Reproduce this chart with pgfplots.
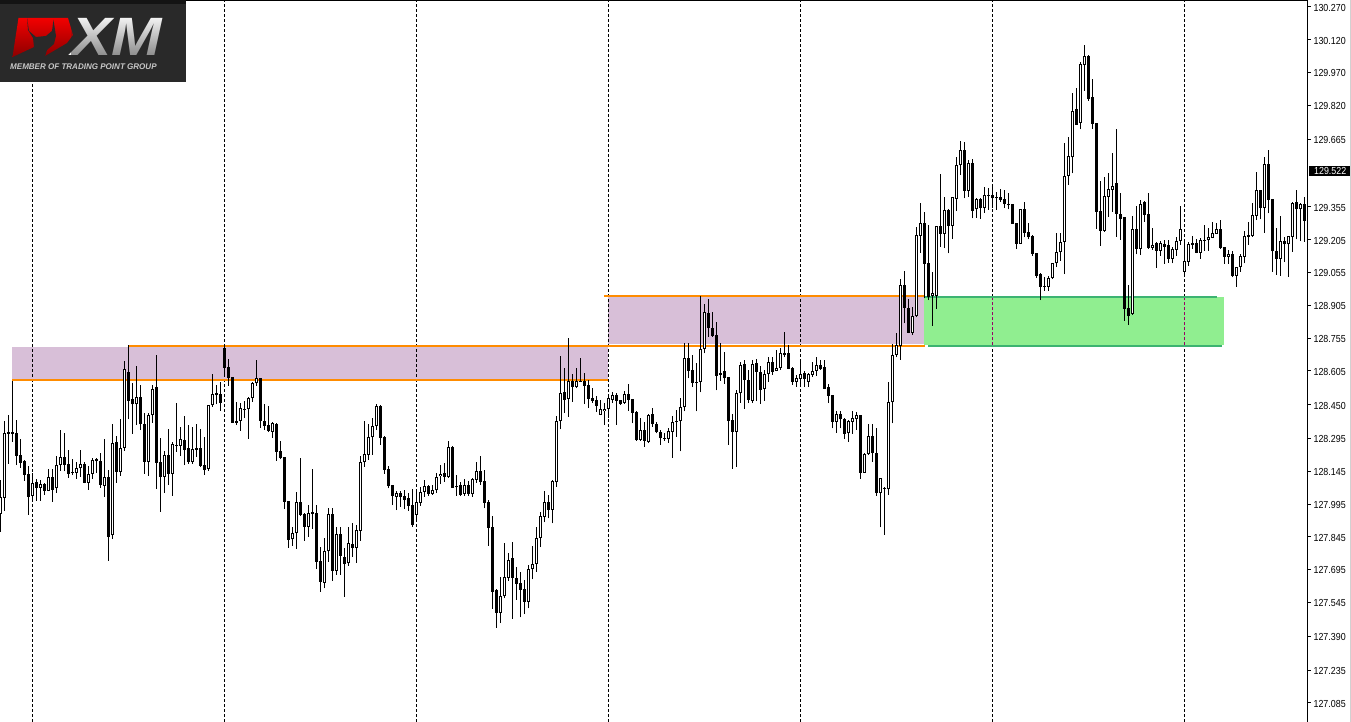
\documentclass[border=0pt]{standalone}
\usepackage{pgfplots}
\usepackage{pgfplotstable}
\usepackage{fontspec}
\setmainfont{Liberation Sans}
\pgfplotsset{compat=1.18}
\usetikzlibrary{fadings}
\definecolor{pzone}{RGB}{216,191,216}
\definecolor{gzone}{RGB}{144,238,144}
\definecolor{gline}{RGB}{60,179,113}
\definecolor{ozone}{RGB}{255,140,0}
\pgfplotstableread{
k l h b t u
0 127.869 128.106 127.949 128.029 1
1 127.964 128.377 128.025 128.319 1
2 128.179 128.403 128.318 128.324 0
3 128.281 128.560 128.318 128.324 0
4 128.174 128.380 128.217 128.319 0
5 128.162 128.293 128.185 128.219 0
6 128.103 128.197 128.130 128.191 0
7 127.947 128.170 128.029 128.132 0
8 128.011 128.136 128.034 128.090 1
9 128.010 128.110 128.071 128.095 0
10 128.010 128.106 128.071 128.086 1
11 128.037 128.093 128.057 128.087 0
12 128.055 128.154 128.057 128.118 1
13 128.006 128.154 128.061 128.118 0
14 128.048 128.215 128.067 128.173 1
15 128.148 128.334 128.173 128.209 1
16 128.145 128.321 128.176 128.209 0
17 128.116 128.243 128.135 128.177 0
18 128.128 128.200 128.138 128.141 0
19 128.110 128.186 128.139 128.159 1
20 128.121 128.243 128.159 128.177 1
21 128.090 128.190 128.093 128.177 0
22 128.060 128.168 128.093 128.135 1
23 128.110 128.208 128.135 128.196 1
24 128.139 128.208 128.191 128.200 0
25 128.071 128.228 128.084 128.191 0
26 128.029 128.293 128.080 128.118 1
27 127.737 128.151 127.846 128.118 0
28 127.836 128.362 127.852 128.273 1
29 128.093 128.307 128.144 128.278 0
30 128.125 128.385 128.144 128.251 1
31 128.240 128.649 128.254 128.612 1
32 128.383 128.722 128.469 128.598 0
33 128.318 128.548 128.452 128.476 0
34 128.356 128.627 128.452 128.484 1
35 128.334 128.539 128.360 128.484 0
36 128.133 128.411 128.190 128.360 0
37 128.125 128.411 128.190 128.401 1
38 128.368 128.540 128.401 128.520 1
39 128.064 128.678 128.185 128.530 0
40 127.961 128.296 128.121 128.186 0
41 128.048 128.238 128.121 128.219 1
42 128.083 128.339 128.135 128.219 0
43 128.034 128.278 128.135 128.269 1
44 128.235 128.456 128.263 128.266 0
45 128.215 128.347 128.263 128.292 1
46 128.174 128.399 128.244 128.287 0
47 128.179 128.356 128.188 128.251 0
48 128.179 128.347 128.188 128.246 1
49 128.212 128.362 128.244 128.252 0
50 128.164 128.337 128.170 128.251 0
51 128.130 128.301 128.151 128.173 0
52 128.148 128.449 128.157 128.447 1
53 128.441 128.591 128.447 128.498 1
54 128.453 128.540 128.493 128.502 1
55 128.423 128.556 128.459 128.498 0
56 128.586 128.728 128.620 128.708 0
57 128.536 128.658 128.574 128.621 0
58 128.368 128.577 128.368 128.577 0
59 128.357 128.464 128.368 128.376 0
60 128.331 128.459 128.377 128.434 1
61 128.388 128.467 128.427 128.431 0
62 128.295 128.487 128.429 128.479 1
63 128.464 128.556 128.479 128.548 1
64 128.536 128.655 128.548 128.571 1
65 128.345 128.574 128.377 128.571 0
66 128.334 128.453 128.354 128.374 0
67 128.324 128.444 128.331 128.356 0
68 128.299 128.371 128.327 128.365 1
69 128.194 128.365 128.235 128.360 0
70 128.200 128.284 128.208 128.237 0
71 127.973 128.211 128.006 128.211 0
72 127.796 128.008 127.833 128.008 0
73 127.804 127.892 127.834 127.862 1
74 127.790 128.049 127.862 128.003 1
75 127.942 128.208 127.945 128.003 0
76 127.828 127.953 127.892 127.950 0
77 127.846 127.991 127.892 127.953 1
78 127.881 128.156 127.952 127.958 0
79 127.698 127.991 127.732 127.955 0
80 127.595 127.801 127.640 127.735 0
81 127.610 127.839 127.636 127.779 1
82 127.732 127.976 127.779 127.949 1
83 127.645 127.976 127.691 127.949 0
84 127.671 127.892 127.691 127.857 1
85 127.671 127.892 127.759 127.857 0
86 127.572 127.793 127.723 127.752 0
87 127.714 127.892 127.724 127.816 1
88 127.755 127.907 127.796 127.813 0
89 127.727 127.900 127.796 127.875 1
90 127.828 128.215 127.874 128.186 1
91 128.167 128.376 128.186 128.223 1
92 128.197 128.360 128.222 128.301 1
93 128.220 128.388 128.301 128.351 1
94 128.334 128.453 128.351 128.443 1
95 128.266 128.447 128.299 128.444 0
96 128.133 128.307 128.153 128.302 0
97 128.067 128.170 128.078 128.156 0
98 127.991 128.083 128.034 128.083 0
99 127.968 128.057 128.029 128.045 1
100 127.984 128.055 128.029 128.045 0
101 127.973 128.060 128.016 128.031 0
102 127.965 128.045 127.988 128.023 0
103 127.892 128.064 127.900 127.991 0
104 127.927 128.052 127.947 128.003 1
105 127.987 128.075 128.002 128.052 1
106 128.029 128.106 128.052 128.077 1
107 128.034 128.083 128.043 128.078 0
108 128.037 128.083 128.043 128.058 1
109 128.045 128.136 128.058 128.118 1
110 128.086 128.174 128.122 128.135 1
111 128.098 128.182 128.119 128.136 0
112 128.116 128.284 128.119 128.255 1
113 128.071 128.261 128.071 128.257 0
114 128.034 128.128 128.072 128.077 0
115 128.032 128.098 128.037 128.081 0
116 128.032 128.110 128.043 128.081 1
117 128.034 128.103 128.042 128.083 0
118 128.029 128.113 128.040 128.109 1
119 128.093 128.190 128.107 128.145 1
120 128.083 128.215 128.098 128.145 0
121 127.976 128.151 128.002 128.100 0
122 127.805 128.014 127.887 128.003 0
123 127.517 127.941 127.595 127.889 0
124 127.430 127.605 127.499 127.601 0
125 127.450 127.663 127.499 127.573 1
126 127.564 127.816 127.573 127.663 1
127 127.645 127.773 127.659 127.738 1
128 127.471 127.823 127.659 127.747 0
129 127.557 127.706 127.631 127.656 0
130 127.477 127.686 127.604 127.633 0
131 127.492 127.648 127.549 127.605 0
132 127.518 127.717 127.549 127.697 1
133 127.651 127.804 127.697 127.720 1
134 127.686 127.892 127.720 127.839 1
135 127.798 127.961 127.842 127.939 1
136 127.912 128.055 127.935 128.003 1
137 127.930 128.037 127.970 128.003 0
138 127.907 128.106 127.970 128.101 1
139 128.075 128.399 128.095 128.374 1
140 128.337 128.673 128.374 128.502 1
141 128.411 128.620 128.472 128.508 0
142 128.395 128.754 128.475 128.559 1
143 128.464 128.591 128.533 128.559 0
144 128.525 128.617 128.530 128.559 1
145 128.554 128.662 128.556 128.559 0
146 128.453 128.594 128.537 128.559 0
147 128.437 128.563 128.476 128.540 0
148 128.459 128.525 128.467 128.479 0
149 128.418 128.490 128.444 128.470 0
150 128.403 128.472 128.405 128.429 1
151 128.358 128.457 128.419 128.429 1
152 128.388 128.495 128.432 128.480 1
153 128.457 128.507 128.472 128.493 1
154 128.358 128.502 128.469 128.495 0
155 128.449 128.470 128.454 128.470 0
156 128.454 128.513 128.460 128.498 1
157 128.422 128.545 128.472 128.498 0
158 128.365 128.475 128.414 128.475 0
159 128.284 128.422 128.289 128.415 0
160 128.284 128.388 128.289 128.333 1
161 128.258 128.373 128.286 128.333 0
162 128.274 128.408 128.280 128.405 1
163 128.350 128.434 128.361 128.406 0
164 128.319 128.370 128.324 128.361 0
165 128.266 128.335 128.297 128.326 0
166 128.284 128.319 128.293 128.298 0
167 128.277 128.342 128.295 128.329 1
168 128.208 128.399 128.327 128.370 1
169 128.304 128.426 128.373 128.376 0
170 128.236 128.480 128.374 128.438 1
171 128.419 128.731 128.438 128.663 1
172 128.571 128.734 128.606 128.663 0
173 128.530 128.678 128.551 128.609 0
174 128.419 128.640 128.551 128.554 0
175 128.506 128.948 128.553 128.704 1
176 128.685 128.911 128.704 128.873 1
177 128.762 128.934 128.800 128.869 0
178 128.762 128.876 128.766 128.800 0
179 128.515 128.827 128.583 128.768 0
180 128.560 128.731 128.588 128.597 1
181 128.545 128.690 128.571 128.602 0
182 128.266 128.579 128.377 128.576 0
183 128.158 128.406 128.327 128.379 0
184 128.167 128.518 128.327 128.502 1
185 128.460 128.647 128.502 128.632 1
186 128.432 128.655 128.565 128.635 0
187 128.457 128.609 128.472 128.563 0
188 128.457 128.655 128.469 128.635 1
189 128.469 128.658 128.600 128.640 0
190 128.454 128.627 128.518 128.598 0
191 128.469 128.609 128.521 128.589 1
192 128.556 128.670 128.589 128.644 1
193 128.586 128.670 128.600 128.644 0
194 128.602 128.701 128.606 128.620 1
195 128.609 128.708 128.620 128.685 1
196 128.667 128.783 128.678 128.685 0
197 128.612 128.721 128.615 128.685 0
198 128.541 128.621 128.556 128.617 0
199 128.533 128.586 128.556 128.571 1
200 128.530 128.647 128.568 128.592 1
201 128.530 128.602 128.567 128.594 0
202 128.533 128.594 128.556 128.589 1
203 128.579 128.644 128.586 128.602 1
204 128.582 128.667 128.606 128.630 1
205 128.609 128.655 128.614 128.630 0
206 128.521 128.655 128.524 128.621 0
207 128.457 128.544 128.492 128.530 0
208 128.342 128.495 128.373 128.493 0
209 128.322 128.419 128.373 128.406 1
210 128.342 128.419 128.383 128.409 0
211 128.292 128.388 128.318 128.385 0
212 128.281 128.380 128.319 128.374 1
213 128.316 128.422 128.373 128.388 1
214 128.335 128.415 128.383 128.402 1
215 128.110 128.403 128.139 128.402 0
216 128.139 128.228 128.139 128.223 1
217 128.220 128.362 128.223 128.306 1
218 128.190 128.362 128.228 128.307 0
219 128.033 128.342 128.048 128.228 0
220 127.889 128.113 128.045 128.113 1
221 127.854 128.072 128.065 128.069 0
222 128.037 128.556 128.063 128.461 1
223 128.365 128.728 128.461 128.676 1
224 128.666 128.777 128.678 128.722 1
225 128.655 129.024 128.720 128.996 1
226 128.822 129.060 128.894 128.996 0
227 128.777 128.934 128.780 128.891 0
228 128.769 128.899 128.780 128.856 1
229 128.850 129.262 128.854 129.225 1
230 129.146 129.371 129.223 129.280 1
231 128.937 129.333 129.095 129.280 0
232 128.929 129.272 128.944 129.097 0
233 128.812 129.056 128.949 128.960 1
234 128.888 129.269 128.949 129.266 1
235 129.173 129.506 129.233 129.266 0
236 129.166 129.399 129.233 129.339 1
237 129.143 129.346 129.269 129.341 0
238 129.208 129.402 129.269 129.399 1
239 129.336 129.585 129.393 129.545 1
240 129.501 129.657 129.545 129.614 1
241 129.394 129.652 129.429 129.614 0
242 129.402 129.570 129.429 129.555 1
243 129.303 129.574 129.338 129.555 0
244 129.306 129.394 129.344 129.390 1
245 129.300 129.394 129.352 129.390 0
246 129.329 129.445 129.349 129.408 1
247 129.341 129.443 129.407 129.410 0
248 129.349 129.445 129.394 129.408 0
249 129.341 129.422 129.394 129.399 0
250 129.379 129.437 129.388 129.399 0
251 129.349 129.432 129.367 129.390 0
252 129.344 129.417 129.362 129.367 0
253 129.277 129.368 129.278 129.367 0
254 129.162 129.283 129.187 129.280 0
255 129.185 129.347 129.187 129.344 1
256 129.216 129.378 129.237 129.344 0
257 129.207 129.280 129.217 129.239 0
258 129.130 129.227 129.140 129.222 0
259 129.031 129.146 129.040 129.143 0
260 128.929 129.051 128.990 129.047 0
261 128.972 129.036 128.990 128.993 0
262 128.972 129.039 128.990 129.028 1
263 129.025 129.097 129.028 129.097 1
264 129.079 129.237 129.097 129.150 1
265 129.109 129.234 129.147 129.193 1
266 129.048 129.649 129.196 129.497 1
267 129.456 129.674 129.497 129.587 1
268 129.509 129.878 129.582 129.793 1
269 129.730 129.898 129.732 129.802 0
270 129.710 130.018 129.738 130.008 1
271 129.887 130.096 130.006 130.046 1
272 129.841 130.049 129.849 130.046 0
273 129.713 129.939 129.736 129.857 0
274 129.256 129.739 129.334 129.739 0
275 129.178 129.474 129.247 129.335 0
276 129.242 129.491 129.247 129.404 1
277 129.311 129.509 129.402 129.436 1
278 129.332 129.600 129.434 129.449 1
279 129.219 129.712 129.324 129.463 0
280 129.204 129.417 129.301 129.323 0
281 128.835 129.311 128.890 129.309 0
282 128.816 128.998 128.858 128.893 0
283 128.861 129.315 128.864 129.253 1
284 129.138 129.359 129.163 129.253 0
285 129.135 129.387 129.164 129.367 1
286 129.288 129.382 129.320 129.378 0
287 129.163 129.417 129.167 129.323 0
288 129.158 129.257 129.169 129.179 1
289 129.077 129.196 129.155 129.192 0
290 129.132 129.199 129.155 129.192 1
291 129.094 129.204 129.173 129.184 0
292 129.100 129.204 129.118 129.179 0
293 129.097 129.173 129.118 129.161 1
294 129.132 129.219 129.158 129.198 1
295 129.181 129.361 129.201 129.253 1
296 129.036 129.196 129.059 129.106 1
297 129.086 129.196 129.105 129.184 1
298 129.163 129.224 129.182 129.190 0
299 129.143 129.208 129.146 129.190 0
300 129.117 129.211 129.146 129.204 1
301 129.155 129.272 129.202 129.205 0
302 129.155 129.260 129.202 129.216 1
303 129.211 129.288 129.214 129.234 1
304 129.231 129.280 129.233 129.253 1
305 129.163 129.295 129.167 129.253 0
306 129.094 129.173 129.128 129.170 0
307 129.094 129.158 129.128 129.138 1
308 129.033 129.155 129.039 129.138 0
309 128.990 129.082 129.039 129.079 1
310 129.059 129.138 129.079 129.129 1
311 129.097 129.247 129.128 129.221 1
312 129.181 129.285 129.219 129.225 0
313 129.219 129.372 129.224 129.317 1
314 129.295 129.513 129.315 129.431 1
315 129.298 129.433 129.352 129.431 0
316 129.237 129.585 129.352 129.550 1
317 129.326 129.616 129.388 129.552 0
318 129.059 129.393 129.152 129.390 0
319 129.044 129.257 129.118 129.154 0
320 129.039 129.314 129.118 129.198 1
321 129.102 129.219 129.184 129.199 0
322 129.036 129.224 129.184 129.221 1
323 129.150 129.376 129.219 129.375 1
324 129.207 129.433 129.344 129.376 0
325 129.199 129.375 129.344 129.367 1
326 129.196 129.402 129.292 129.367 0
}\candles
\begin{document}
\begin{tikzpicture}[x=1pt,y=1pt]
\useasboundingbox (0,0) rectangle (1351,722);
\begin{axis}[
  at={(0,0)}, anchor=south west, scale only axis,
  width=1307.5pt, height=722pt,
  xmin=-0.125, xmax=326.75, ymin=126.998, ymax=130.302,
  axis x line=none,
  axis y line*=right,
  y axis line style={line width=1pt,-},
  xtick=\empty,
  ytick={130.270,130.120,129.970,129.820,129.665,129.355,129.205,129.055,128.905,128.755,128.605,128.450,128.295,128.145,127.995,127.845,127.695,127.545,127.390,127.235,127.085},
  yticklabels={130.270,130.120,129.970,129.820,129.665,129.355,129.205,129.055,128.905,128.755,128.605,128.450,128.295,128.145,127.995,127.845,127.695,127.545,127.390,127.235,127.085},
  tick style={black,line width=1pt},
  tick align=outside, major tick length=3pt,
  yticklabel style={font=\fontsize{10.2}{11}\selectfont, anchor=west, xscale=.87, yshift=-0.8pt},
  clip=true,
]
% zones
\addplot[draw=none,fill=pzone] coordinates {(2.875,128.565)(151.875,128.565)(151.875,128.714)(2.875,128.714)} -- cycle;
\addplot[draw=none,fill=pzone] coordinates {(151.875,128.728)(231.125,128.728)(231.125,128.943)(151.875,128.943)} -- cycle;
\addplot[draw=none,fill=gzone] coordinates {(230.875,128.721)(305.875,128.721)(305.875,128.945)(230.875,128.945)} -- cycle;
% period separators
\pgfplotsinvokeforeach{8,56,104,152,200,248,296}{
  \addplot[black,line width=1.1pt,dash pattern=on 3pt off 2pt,forget plot] coordinates {(#1,126.998)(#1,130.302)};
}
\addplot[gzone,line width=1.4pt,forget plot] coordinates {(248,128.722)(248,128.943)};
\addplot[gzone,line width=1.4pt,forget plot] coordinates {(296,128.722)(296,128.943)};
\addplot[violet!60!purple,line width=1.1pt,dash pattern=on 3pt off 2pt,forget plot] coordinates {(248,128.722)(248,128.943)};
\addplot[violet!60!purple,line width=1.1pt,dash pattern=on 3pt off 2pt,forget plot] coordinates {(296,128.722)(296,128.943)};
% zone borders
\addplot[ozone,line width=2pt] coordinates {(2.875,128.563)(151.875,128.563)};
\addplot[ozone,line width=2pt] coordinates {(31.875,128.719)(231.125,128.719)};
\addplot[ozone,line width=2pt] coordinates {(150.875,128.947)(231.125,128.947)};
\addplot[gline,line width=1.6pt] coordinates {(231.125,128.944)(304.125,128.944)};
\addplot[gline,line width=1.6pt] coordinates {(231.875,128.719)(305.375,128.719)};
% wicks
\addplot[draw=none,mark=none,error bars/.cd,y dir=plus,y explicit,error mark=none,error bar style={black,line width=1.1pt}]
  table[x=k,y=l,y error plus expr={\thisrow{h}-\thisrow{l}}] {\candles};
% bodies
\addplot[draw=none,mark=none,error bars/.cd,y dir=plus,y explicit,error mark=none,error bar style={black,line width=3pt}]
  table[x=k,y=b,y error plus expr={\thisrow{t}-\thisrow{b}}] {\candles};
% hollow centres of rising candles
\addplot[draw=none,mark=none,error bars/.cd,y dir=plus,y explicit,error mark=none,error bar style={white,line width=1pt}]
  table[x=k,y expr={\thisrow{b}+0.0046},y error plus expr={\thisrow{u}*max(\thisrow{t}-\thisrow{b}-0.0092,0)}] {\candles};
\end{axis}
% top border and window edge
\draw[black,line width=1pt] (0,721.5) -- (1308,721.5);
\fill[black!18] (1350,0) rectangle (1351,722);
% current price tag
\fill[black] (1309,546) rectangle (1350,556);
\node[text=white,anchor=west,inner sep=0pt,xscale=.87,font=\fontsize{10.2}{11}\selectfont] at (1314,550.6) {129.522};
% logo
\fill[black!84] (0,640) rectangle (186,722);
\fill[black!92] (0,718) rectangle (186,722);
\shade[top color=red!95!black,bottom color=red!55!black] (18.5,704) -- (68,704) -- (73,687) -- (67,679) -- (45,666) -- (34,675) -- (12.5,665) -- cycle;
\fill[black!84] (27,704.5) -- (29,691) -- (36,685) -- (46,686) -- (52,691) -- (53.5,702) -- (56,686) -- (54,678) -- (47,672) -- (45,665.5) -- (38,667) -- (34,675) -- (33,684) -- (28,692) -- cycle;
\node[text=black!3,anchor=west,inner sep=0pt,font=\fontsize{54}{54}\selectfont\bfseries\itshape,xscale=1.12] at (71,685.5) {XM};
\fill[black!84,fill opacity=.55,path fading=north] (71,664) rectangle (170,706);
\node[text=black!22,anchor=west,inner sep=0pt,xscale=.98,font=\fontsize{8.2}{9}\selectfont\bfseries\itshape] at (10,655) {MEMBER OF TRADING POINT GROUP};
\end{tikzpicture}
\end{document}
